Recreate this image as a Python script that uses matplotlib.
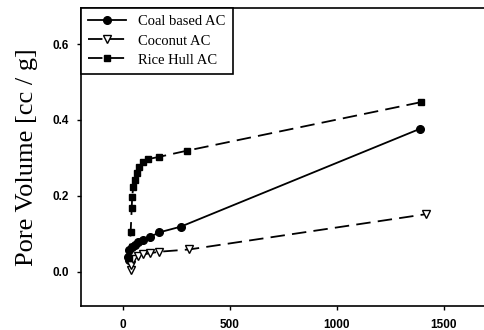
import matplotlib

matplotlib.use("Agg")
import matplotlib.pyplot as plt

# Values
coal_x = [28, 25, 29, 40, 56, 72, 95, 126, 170, 270, 1389]
coal_y = [0.030, 0.040, 0.057, 0.066, 0.072, 0.079, 0.084, 0.092, 0.104, 0.119, 0.377]

coconut_x = [36, 36, 48, 72, 95, 126, 170, 310, 1417]
coconut_y = [0.004, 0.018, 0.035, 0.042, 0.046, 0.049, 0.053, 0.059, 0.152]

rice_x = [30, 36, 41, 43, 48, 56, 64, 76, 95, 118, 170, 298, 1393]
rice_y = [0.036, 0.106, 0.169, 0.198, 0.223, 0.242, 0.260, 0.277, 0.290, 0.297, 0.303, 0.319, 0.447]

x_ticks = [0, 500, 1000, 1500]
y_ticks = [0.0, 0.2, 0.4, 0.6]

fig = plt.figure(figsize=(4.84, 3.30), dpi=100)
ax = fig.add_axes([0.1674, 0.0727, 0.8326, 0.9031])

ax.plot(coal_x, coal_y, color="black", linestyle="-", linewidth=1.3,
        marker="o", markersize=5.5, label="Coal based AC")
ax.plot(coconut_x, coconut_y, color="black", linestyle=(0, (8, 4)), linewidth=1.3,
        marker="v", markersize=5.5, markerfacecolor="white", label="Coconut AC")
ax.plot(rice_x, rice_y, color="black", linestyle=(0, (8, 4)), linewidth=1.3,
        marker="s", markersize=5, label="Rice Hull AC")

ax.set_xlim(-196, 1687)
ax.set_ylim(-0.09, 0.695)
ax.set_xticks(x_ticks)
ax.set_yticks(y_ticks)
ax.set_xticklabels([str(t) for t in x_ticks])
ax.set_yticklabels([f"{t:.1f}" for t in y_ticks])
ax.tick_params(direction="out", length=3, width=1, labelsize=8.5, pad=6)
for lab in ax.get_xticklabels() + ax.get_yticklabels():
    lab.set_fontfamily("Liberation Sans")
    lab.set_fontweight("bold")

ax.spines["right"].set_visible(False)
for side in ("left", "bottom", "top"):
    ax.spines[side].set_linewidth(1.2)

ax.set_ylabel("Pore Volume [cc / g]", fontsize=19, fontfamily="Liberation Serif", labelpad=10)

leg = ax.legend(loc="upper left", borderaxespad=0, fancybox=False, framealpha=1,
                edgecolor="black", handlelength=2.6, labelspacing=0.4,
                borderpad=0.5, prop={"family": "Liberation Serif", "size": 10.5})
leg.get_frame().set_linewidth(1.2)

fig.savefig("out.png", dpi=100)
